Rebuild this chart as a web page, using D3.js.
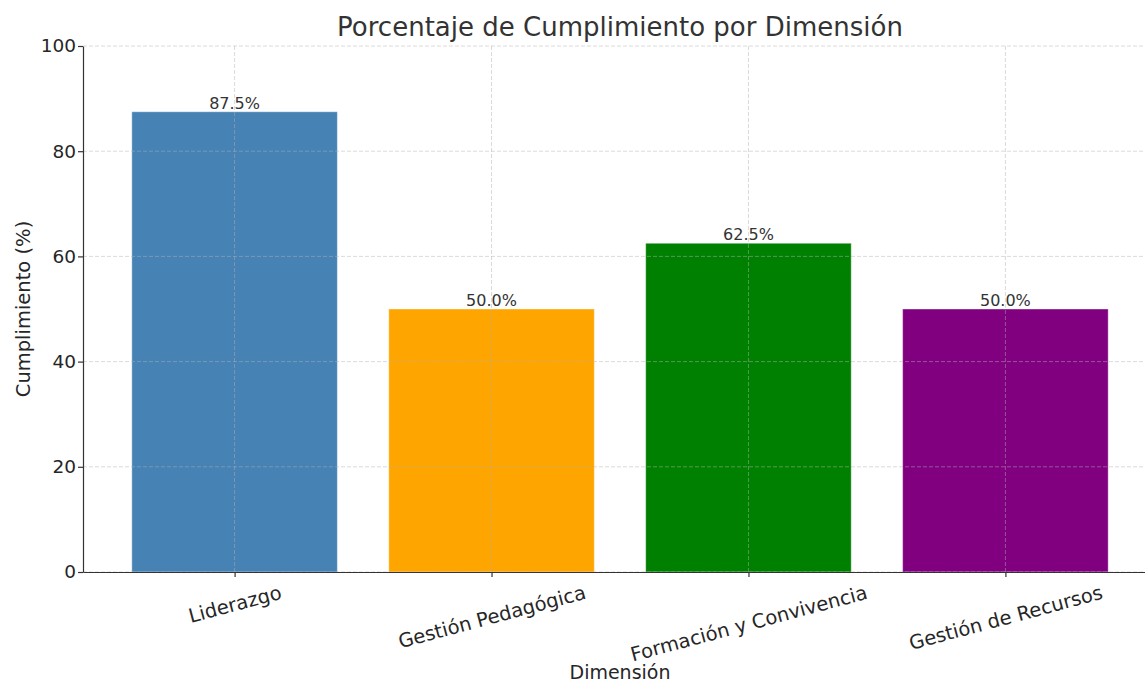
<!DOCTYPE html>
<meta charset="utf-8">
<style>

body {
  margin: 0;
  background: #fff;
}

text {
  font-family: "DejaVu Sans", sans-serif;
}

.grid line {
  stroke: #b0b0b0;
  stroke-opacity: 0.6;
  stroke-dasharray: 4, 2;
  stroke-width: 0.8px;
}

</style>
<svg></svg>
<script src="https://d3js.org/d3.v7.min.js"></script>
<script>

var categories = ["Liderazgo", "Gestión Pedagógica", "Formación y Convivencia", "Gestión de Recursos"],
    values = [87.5, 50.0, 62.5, 50.0],
    colors = ["steelblue", "orange", "green", "purple"],
    yTicks = [0, 20, 40, 60, 80, 100];

var width = 1145,
    height = 684;

var margin = {left: 83, top: 46, bottom: 572, right: 1157};

var svg = d3.select("svg")
    .attr("width", width)
    .attr("height", height);

// matplotlib-style x limits: bar centres at 0..n-1, width 0.8, 5% margin
var x = d3.scaleLinear()
    .domain([-0.59, categories.length - 1 + 0.59])
    .range([margin.left, margin.right]);

var y = d3.scaleLinear()
    .domain([0, 100])
    .range([margin.bottom, margin.top]);

var barW = x(0.8) - x(0);

svg.selectAll("rect.bar")
    .data(values)
  .enter().append("rect")
    .attr("class", "bar")
    .attr("x", function(d, i) { return x(i) - barW / 2; })
    .attr("y", function(d) { return y(d); })
    .attr("width", barW)
    .attr("height", function(d) { return y(0) - y(d); })
    .attr("fill", function(d, i) { return colors[i]; })
    .attr("stroke", "#fff")
    .attr("stroke-opacity", 0.4)
    .attr("stroke-width", 1);

// grid on top of bars
var grid = svg.append("g").attr("class", "grid");

grid.selectAll("line.h")
    .data(yTicks)
  .enter().append("line")
    .attr("x1", margin.left)
    .attr("x2", margin.right)
    .attr("y1", function(d) { return y(d); })
    .attr("y2", function(d) { return y(d); });

grid.selectAll("line.v")
    .data(categories)
  .enter().append("line")
    .attr("x1", function(d, i) { return x(i); })
    .attr("x2", function(d, i) { return x(i); })
    .attr("y1", margin.top)
    .attr("y2", margin.bottom);

// value labels
svg.selectAll("text.val")
    .data(values)
  .enter().append("text")
    .attr("x", function(d, i) { return x(i); })
    .attr("y", function(d) { return y(d) - 3; })
    .attr("text-anchor", "middle")
    .attr("font-size", "16px")
    .attr("fill", "#333")
    .text(function(d) { return d.toFixed(1) + "%"; });

// axes
var yAxis = svg.append("g")
    .attr("transform", "translate(" + margin.left + ",0)")
    .call(d3.axisLeft(y).tickValues(yTicks).tickSize(5).tickPadding(2).tickSizeOuter(0));

var xAxis = svg.append("g")
    .attr("transform", "translate(0," + margin.bottom + ")")
    .call(d3.axisBottom(x).tickValues(d3.range(categories.length)).tickSize(5).tickSizeOuter(0)
      .tickFormat(function(i) { return categories[i]; }));

[yAxis, xAxis].forEach(function(g) {
  g.select(".domain").attr("stroke", "#333").attr("stroke-width", 1.2);
  g.selectAll(".tick line").attr("stroke", "#333").attr("stroke-width", 1.2);
  g.selectAll(".tick text")
      .attr("fill", "#262626")
      .style("font-family", "DejaVu Sans, sans-serif")
      .style("font-size", "18.5px");
});

// rotated labels: top of rotated box sits just under the ticks, like matplotlib
var rot = 15 * Math.PI / 180;
xAxis.selectAll(".tick text")
    .style("font-size", "19.5px")
    .attr("y", 0)
    .attr("dy", 0)
    .attr("text-anchor", "middle")
    .attr("dominant-baseline", "central")
    .attr("transform", function() {
      var b = this.getBBox();
      var H = b.width * Math.sin(rot) + b.height * Math.cos(rot);
      return "translate(0," + (9 + H / 2) + ") rotate(-15)";
    });

// title and axis labels
svg.append("text")
    .attr("x", (margin.left + margin.right) / 2)
    .attr("y", 36)
    .attr("text-anchor", "middle")
    .attr("font-size", "26px")
    .attr("fill", "#333")
    .text("Porcentaje de Cumplimiento por Dimensión");

svg.append("text")
    .attr("x", (margin.left + margin.right) / 2)
    .attr("y", 679)
    .attr("text-anchor", "middle")
    .attr("font-size", "19px")
    .attr("fill", "#262626")
    .text("Dimensión");

svg.append("text")
    .attr("transform", "translate(30," + (margin.top + margin.bottom) / 2 + ") rotate(-90)")
    .attr("text-anchor", "middle")
    .attr("font-size", "19.5px")
    .attr("fill", "#262626")
    .text("Cumplimiento (%)");

</script>
